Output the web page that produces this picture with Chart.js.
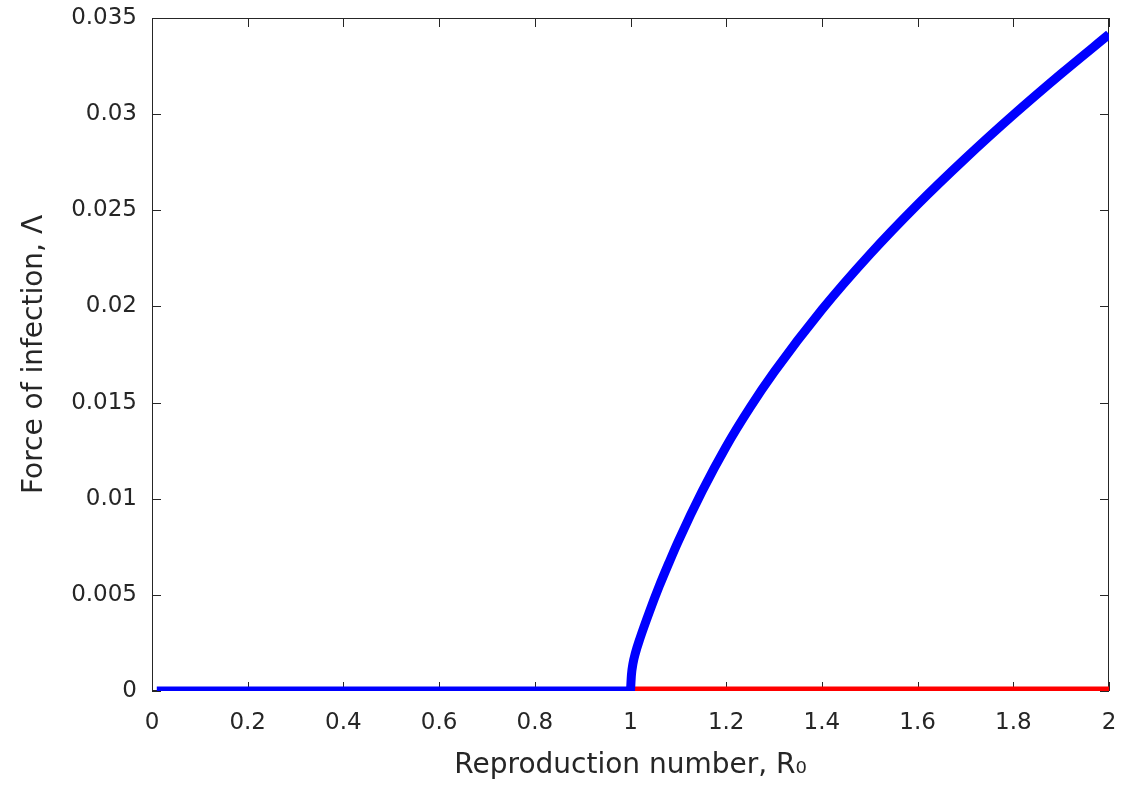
<!DOCTYPE html>
<html>
<head>
<meta charset="utf-8">
<title>Force of infection vs R0</title>
<script src="https://cdn.jsdelivr.net/npm/chart.js@4"></script>
<style>
  html, body { margin: 0; padding: 0; background: #ffffff; }
  #grafica { display: block; }
</style>
</head>
<body>
<canvas id="grafica" width="1136" height="789"></canvas>
<script>
// Datos
// Equilibrio libre de enfermedad estable (R0 < 1)
const r0Estable = [0.01, 1];
const lambdaEstable = [0, 0];

// Equilibrio libre de enfermedad inestable (R0 > 1)
const r0Inestable = [1, 2];
const lambdaInestable = [0, 0];

// Equilibrio endémico
const r0Endemico = [1, 1.002, 1.005, 1.01, 1.02, 1.04, 1.06, 1.08, 1.1, 1.15, 1.2, 1.25, 1.3, 1.4, 1.5, 1.6, 1.7, 1.8, 1.9, 2];
const lambdaEndemico = [0, 0.00085, 0.0014, 0.00195, 0.00275, 0.00415, 0.00545, 0.00665, 0.0078, 0.0104, 0.01272, 0.01475, 0.01658, 0.01983, 0.0227, 0.0253, 0.0277, 0.02996, 0.0321, 0.03415];

// Marcas de los ejes
const ticksX = [0, 0.2, 0.4, 0.6, 0.8, 1, 1.2, 1.4, 1.6, 1.8, 2];
const ticksY = [0, 0.005, 0.01, 0.015, 0.02, 0.025, 0.03, 0.035];

const colorEjes = "#262626";
const fuente = "'DejaVu Sans', 'Liberation Sans', sans-serif";

function puntos(xs, ys) {
    return xs.map((x, i) => ({ x: x, y: ys[i] }));
}

// Plugin: caja y marcas hacia adentro (como en MATLAB)
const cajaEjes = {
    id: "cajaEjes",
    beforeDatasetsDraw(chart) {
        const ctx = chart.ctx;
        const a = chart.chartArea;
        const sx = chart.scales.x;
        const sy = chart.scales.y;
        const largo = 9;
        ctx.save();
        ctx.strokeStyle = colorEjes;
        ctx.lineWidth = 1;
        ctx.strokeRect(a.left + 0.5, a.top + 0.5, a.right - a.left - 1, a.bottom - a.top - 1);
        ctx.beginPath();
        ticksX.forEach(v => {
            const px = Math.round(sx.getPixelForValue(v)) + 0.5;
            ctx.moveTo(px, a.bottom);
            ctx.lineTo(px, a.bottom - largo);
            ctx.moveTo(px, a.top);
            ctx.lineTo(px, a.top + largo);
        });
        ticksY.forEach(v => {
            const py = Math.round(sy.getPixelForValue(v)) + 0.5;
            ctx.moveTo(a.left, py);
            ctx.lineTo(a.left + largo, py);
            ctx.moveTo(a.right, py);
            ctx.lineTo(a.right - largo, py);
        });
        ctx.stroke();
        ctx.restore();
    }
};

// Función para crear la gráfica
function crearGrafica() {
    const ctx = document.getElementById("grafica").getContext("2d");
    new Chart(ctx, {
        type: "scatter",
        data: {
            datasets: [
                {
                    label: "Endémico",
                    data: puntos(r0Endemico, lambdaEndemico),
                    showLine: true,
                    borderColor: "#0000ff",
                    borderWidth: 9,
                    pointRadius: 0,
                    cubicInterpolationMode: "monotone"
                },
                {
                    label: "Libre de enfermedad (estable)",
                    data: puntos(r0Estable, lambdaEstable),
                    showLine: true,
                    borderColor: "#0000ff",
                    borderWidth: 9,
                    pointRadius: 0
                },
                {
                    label: "Libre de enfermedad (inestable)",
                    data: puntos(r0Inestable, lambdaInestable),
                    showLine: true,
                    borderColor: "#ff0000",
                    borderWidth: 9,
                    pointRadius: 0
                }
            ]
        },
        options: {
            responsive: false,
            animation: false,
            devicePixelRatio: 1,
            layout: {
                padding: { left: 0, right: 27, top: 18, bottom: 0 }
            },
            plugins: {
                legend: { display: false },
                tooltip: { enabled: false }
            },
            scales: {
                x: {
                    type: "linear",
                    min: 0,
                    max: 2,
                    afterBuildTicks: scale => { scale.ticks = ticksX.map(v => ({ value: v })); },
                    afterFit: scale => { scale.height = 98; },
                    grid: { display: false, drawTicks: false },
                    border: { display: false },
                    ticks: {
                        padding: 18,
                        color: colorEjes,
                        font: { family: fuente, size: 23 },
                        maxRotation: 0,
                        callback: v => String(v)
                    },
                    title: {
                        display: true,
                        text: "Reproduction number, R₀",
                        color: colorEjes,
                        font: { family: fuente, size: 28 },
                        padding: { top: 0, bottom: 6 }
                    }
                },
                y: {
                    type: "linear",
                    min: 0,
                    max: 0.035,
                    afterBuildTicks: scale => { scale.ticks = ticksY.map(v => ({ value: v })); },
                    afterFit: scale => {
                        scale.width = 152;
                        scale.paddingTop = 0;
                        scale.paddingBottom = 0;
                    },
                    grid: { display: false, drawTicks: false },
                    border: { display: false },
                    ticks: {
                        padding: 15,
                        color: colorEjes,
                        font: { family: fuente, size: 23 },
                        callback: v => String(v)
                    },
                    title: {
                        display: true,
                        text: "Force of infection, Λ",
                        color: colorEjes,
                        font: { family: fuente, size: 28 },
                        padding: { top: 18, bottom: 0 }
                    }
                }
            }
        },
        plugins: [cajaEjes]
    });
}

window.onload = crearGrafica;
</script>
</body>
</html>
